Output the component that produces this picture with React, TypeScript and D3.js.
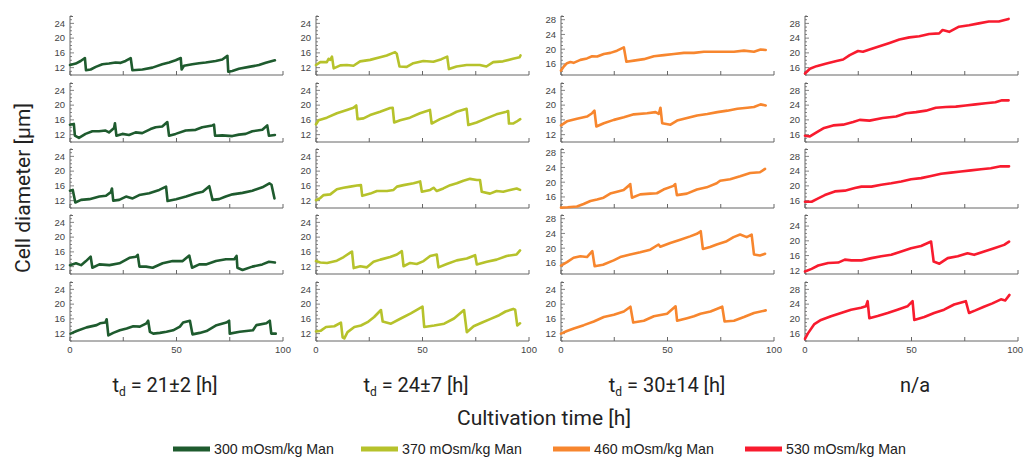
import React from "react";
import * as d3 from "d3";

// ---------- data ----------
const hourTicks = [0, 25, 50, 75, 100];
const hourLabels = [0, 50, 100];
const seriesNames = ["300 mOsm/kg Man", "370 mOsm/kg Man", "460 mOsm/kg Man", "530 mOsm/kg Man"];
const doublingTimes = ["21±2", "24±7", "30±14", "n/a"];
const panelMins = [
  [10, 10, 10, 10, 10],
  [10, 10, 10, 10, 10],
  [13, 10, 13, 13, 10],
  [14, 14, 14, 11, 14],
];

// 300 mOsm/kg (hours, diameter µm)
const m300_1 = [[0,12.7],[2.7,13.1],[5,13.8],[7,14.6],[7.5,11.3],[9.7,11.5],[12.1,12.2],[15.2,12.9],[18.3,13.1],[21.4,13.4],[23.8,13.3],[26.1,13.8],[28.5,14.6],[29.3,11.3],[34,11.5],[38.7,12],[43.3,12.9],[46.5,13.4],[49.6,14],[52,14.6],[52.4,11.5],[53.5,12.5],[57.4,12.9],[60.6,13.2],[63.7,13.4],[68.4,13.8],[71.5,14.2],[73.9,15.2],[74.3,10.9],[76.2,11.1],[79.3,11.7],[84,12.2],[88.7,12.7],[91.9,13.3],[96.2,14]];
const m300_2 = [[0,14.7],[1.8,14.9],[2.3,11.7],[4.2,11.1],[7.3,12.2],[10.5,12.9],[13.6,12.9],[16.7,13.1],[18.3,12.6],[20.7,13.8],[21.1,15.1],[21.8,11.7],[24.6,12.2],[27.7,11.9],[30.8,12.6],[33.9,12.4],[37.8,13.5],[40.2,14],[43.3,14.2],[45.7,15.4],[46.5,11.7],[49.6,12.2],[54.3,13.1],[59,13.3],[62.1,14],[66.8,14.5],[67.6,14.7],[68.1,11.7],[71.5,11.8],[76.2,11.6],[79.3,12],[82.5,12.2],[85.6,12.9],[90.3,13.3],[92.6,14.5],[93.4,11.7],[96.2,11.9]];
const m300_3 = [[0,14.7],[1.3,14.9],[2.5,11.5],[5.2,12.2],[9.1,12.4],[13.8,13.1],[16.9,13.3],[19.2,14.3],[19.7,15.3],[20.3,12],[23.1,12.2],[26.3,13.1],[29.4,12.6],[32.5,13.5],[37.2,14],[41.9,14.9],[45.1,15.8],[45.8,11.9],[49.8,12.4],[54.5,13.1],[59.2,14],[62.3,14.4],[65.4,15.9],[66.9,12.2],[70,12.4],[73.1,13.1],[76.3,13.7],[81,14.1],[85.6,14.7],[90.3,15.6],[93.6,16.7],[94.6,16.3],[96,12.6]];
const m300_4 = [[0,12.4],[2.8,12.9],[5.2,12.4],[7.5,13.5],[9.7,14.7],[10.5,11.7],[13.8,12.6],[18.5,12.4],[23.2,12.9],[27.9,14.4],[31,14.7],[31.8,15.2],[32.6,12],[35.7,12],[38.8,11.7],[43.5,12.9],[48.2,13.5],[52.9,13.5],[56,15],[57.3,11.7],[60.7,12.6],[63.8,12.6],[68.5,13.5],[73.2,14],[77.1,14],[78.2,14.9],[78.6,11.7],[81,11.1],[85.6,12],[90.3,12.6],[93.4,13.3],[96.2,13.1]];
const m300_5 = [[0.3,12],[3.1,12.7],[7.8,13.7],[12.5,14.3],[14.1,14.8],[16.6,15],[17.2,15.9],[18,11.5],[20.3,12.2],[23.4,12.9],[26.6,13.4],[29.7,14],[32.8,13.9],[35.9,14.8],[36.7,15.5],[37.5,12.5],[39.1,12],[42.2,12.2],[45.3,12.5],[48.4,12.9],[51.6,13.9],[53.1,15],[56.3,15.5],[57.5,11.8],[60.9,12.2],[64.1,12.7],[68.8,14.3],[73.4,15],[74.7,15.5],[75,12],[79.7,12.5],[85.9,12.9],[87.5,14.3],[92.2,14.8],[93.8,15.5],[94.5,12],[96.6,12]];

// 370 mOsm/kg
const m370_1 = [[0,12.7],[2,13.5],[5.1,13.5],[5.9,14.4],[6.7,14.1],[7.5,15],[8.3,11.8],[11.4,12.6],[14.5,12.7],[17.6,12.5],[20.7,13.7],[25.4,14.1],[30.1,14.8],[33.2,15.3],[37.1,16.2],[37.9,15.8],[39.2,12.3],[42.6,12.2],[45.7,13.2],[50.4,13.8],[55.1,13.6],[58.9,14.3],[61.6,15],[62.4,11.6],[66,12.3],[70.7,12.7],[76.9,12.7],[80,12.3],[83.2,13.5],[87.8,13.7],[92.5,14.4],[95.6,14.8],[96,15.3]];
const m370_2 = [[0,14.8],[1.2,15.9],[5.1,16.6],[9.8,17.8],[14.5,18.7],[17.6,19.3],[18.9,19.9],[19.5,16.2],[22.3,16.4],[25.4,17.3],[30.1,18.2],[34.8,19.2],[36,19.3],[36.7,15.3],[39.5,15.9],[44.1,16.6],[48.8,17.8],[53.5,18.7],[54.3,15],[58.2,16.2],[62.9,17.3],[66,18.2],[70.7,19],[71.5,14.6],[75.4,15.3],[80,16.4],[84.7,17.5],[89.4,18.2],[90.2,18.4],[90.6,15],[92.5,15],[94.1,15.5],[95.9,16.2]];
const m370_3 = [[0,12.1],[2,12.7],[3.6,13.5],[6.7,13.7],[9.8,15.1],[12.9,15.5],[16.1,15.8],[19.2,16.1],[21.1,16.2],[21.7,13.3],[25.5,13.9],[28.6,14.6],[33.3,14.6],[36.4,14.9],[38,15.8],[41.1,16.2],[45.8,16.7],[48.9,17.2],[49.7,14.4],[53.6,14.9],[55.2,15.5],[56.7,14.6],[59.8,15.3],[63,16.2],[66.1,16.7],[69.2,17.4],[72.3,17.9],[75.5,17.6],[77,17.6],[77.8,14.4],[81.7,13.9],[84.8,14.6],[87.9,14.4],[91.1,14.9],[94.2,15.3],[95.8,14.9]];
const m370_4 = [[0,13.5],[2,13.1],[5.2,13],[9.8,13.6],[13,14.6],[16.1,15.8],[16.9,16.1],[17.7,11.6],[20.8,12.1],[23.9,11.8],[27,13.3],[30.2,13.9],[34.8,14.6],[38,15.3],[40.3,16.2],[41.1,12.1],[44.2,13],[47.3,12.7],[50.5,13.5],[53.6,14.9],[56.7,15.3],[57.5,11.8],[61.4,12.7],[66.1,13.7],[70.8,14.2],[74.7,15.1],[75.5,12.6],[80.2,13.3],[84.8,13.9],[89.5,14.9],[94.2,15.3],[95.8,16.4]];
const m370_5 = [[0,12.6],[2.3,12.8],[4.7,13.8],[8.6,14],[11.7,15],[12.5,11],[13.3,10.7],[14.8,12.4],[18,13.8],[21.1,14.2],[24.2,15.1],[27.3,16.5],[30.5,18.4],[31.3,15.3],[35.2,14.7],[39.8,16.1],[44.5,17.5],[50,19.3],[50.8,13.8],[55.5,14.2],[60.2,14.7],[64.8,16.1],[69.5,18.4],[70.8,12.4],[74,14],[78,15],[82,16],[86,17],[89,18],[92.6,18.7],[93.5,18.5],[94.5,14.2],[95.8,14.8]];

// 460 mOsm/kg
const m460_1 = [[0,14.2],[1.3,15.3],[2.8,16.2],[4.4,16.5],[5.9,16.3],[9.1,17.1],[12.2,17.5],[14.6,18.1],[17,18],[20.1,18.7],[23.2,19],[26.3,19.6],[29.5,20.5],[30.7,16.6],[34.2,16.9],[38.9,17.3],[43.6,18.1],[48.3,18.4],[53,18.7],[57.7,19],[62.4,19],[67.1,19.3],[71.8,19.3],[76.5,19.3],[81.2,19.3],[85.9,19.6],[90.6,19.3],[93.7,19.9],[96.1,19.8]];
const m460_2 = [[0,14.5],[2.8,15.6],[7.5,16.3],[12.2,16.9],[14.6,17.8],[15.7,18.5],[16.6,14.2],[20.1,15.1],[24.8,16],[29.5,16.7],[34.2,17.5],[40.4,17.8],[44.4,18.1],[45.9,17.6],[46.7,19.3],[47.5,15.1],[51.4,14.7],[54.5,15.8],[59.2,16.5],[63.9,17.2],[68.7,17.6],[73.4,18.1],[78.1,18.5],[82.8,19],[87.5,19.3],[90.6,19.5],[93.7,20.2],[96.1,19.9]];
const m460_3 = [[0,13.1],[3.1,13.2],[7.5,13.4],[10.6,14.1],[13.8,14.9],[16.9,15.3],[20,15.8],[23.1,16.9],[26.3,17.4],[29.4,17.9],[31.7,19],[32.5,19.5],[33.3,15.8],[37.2,16.7],[41.9,16.9],[45,17],[48.1,18],[52.8,19],[53.6,19.5],[54.4,16.5],[59.1,16.9],[63.8,18],[68.4,18.6],[73.1,19.7],[74.7,20.4],[79.4,20.8],[84.1,21.6],[88.8,22.5],[93.4,22.7],[95.8,23.6]];
const m460_4 = [[0,15.3],[2.8,16.2],[5.9,17.4],[9.1,17.8],[12.2,17.6],[14.7,19.2],[15.8,15.1],[19.7,15.5],[24.7,16.7],[27.8,17.6],[32.5,18.3],[37.2,18.9],[41.9,19.6],[45.8,21],[46.6,20.4],[51.3,21.4],[56,22.3],[60.6,23.2],[63.8,23.9],[65.6,24.6],[66.6,19.8],[70,20.3],[73.1,21],[77.8,21.9],[81,23],[84.1,23.7],[87.2,23],[89.5,23.7],[90.6,18.3],[93.4,18],[95.8,18.5]];
const m460_5 = [[0,12],[2.8,12.7],[6,13.4],[10.7,14.3],[15.4,15.3],[20.1,16.5],[24.8,17.1],[29.5,18],[32.6,19.3],[33.9,15],[38.9,15.5],[43.6,16.7],[49.8,17.4],[53.8,19.4],[54.5,15.5],[59.2,16.2],[62.4,16.7],[65.5,17.4],[70.2,18],[75.7,19.3],[76.8,15.3],[81.2,15.5],[85.9,16.5],[90.6,17.6],[96.1,18.3]];

// 530 mOsm/kg
const m530_1 = [[0,14.4],[2.3,15.7],[5.4,16.4],[10.1,17.1],[14.8,17.8],[17.9,18.2],[21,19.4],[24.9,20.5],[27.2,20.3],[30.3,20.9],[35,21.8],[39.7,22.7],[44.3,23.6],[49,24.2],[53.7,24.5],[58.3,25.1],[63,25.3],[64.6,26.2],[67.7,25.7],[72.3,27.1],[77,27.5],[81.6,28],[86.3,28.5],[91,28.5],[95.6,29.2]];
const m530_2 = [[0,15.7],[2.3,15.5],[5.4,16.6],[8.6,17.7],[13.2,18.5],[17.9,18.7],[22.6,19.4],[25.7,20],[30.3,19.8],[36.5,20.5],[42.8,20.9],[47.4,21.8],[52.1,22.1],[56.8,22.5],[61.4,23.3],[66.1,23.5],[70.8,23.6],[75.4,23.9],[80.1,24.2],[84.8,24.5],[89.4,24.8],[92.5,25.3],[95.6,25.3]];
const m530_3 = [[0,15.7],[3.1,15.7],[6.2,16.6],[9.3,17.5],[14,18.5],[18.7,18.7],[23.4,19.4],[26.5,19.8],[31.2,19.8],[35.8,20.3],[40.5,20.7],[45.2,21.2],[49.8,21.8],[54.5,22.1],[59.2,22.7],[63.9,23.3],[68.5,23.6],[73.2,23.9],[77.9,24.2],[82.6,24.5],[87.2,24.8],[91.9,25.3],[95.8,25.3]];
const m530_4 = [[0,11.7],[3.1,12.4],[6.2,13.3],[10.9,14],[15.6,14.1],[18.7,14.9],[21.8,14.7],[26.5,14.7],[31.2,15.3],[35.8,15.8],[40.5,16.2],[45.2,17.1],[49.8,18],[54.5,18.6],[59.2,19.8],[60.4,14.4],[63.1,13.8],[67,15.3],[71.7,15.8],[76.3,16.6],[79.4,16.2],[84.1,17.1],[88.8,18],[93.5,18.9],[95.8,19.8]];
const m530_5 = [[0,14.6],[1.3,16],[4.4,18.6],[7.5,19.7],[12.2,20.7],[16.9,21.6],[21.6,22.5],[26.3,23],[28.6,23.4],[29.4,24.8],[30.2,20.2],[34.1,20.8],[38.8,21.6],[43.4,22.5],[48.1,23.4],[50.5,24.8],[51.3,19.7],[56,20.5],[60.6,21.6],[65.3,22.5],[70,23.9],[75.5,24.8],[77,21.6],[80,22.3],[84,23.3],[88,24.2],[92,25.3],[94,25],[96,26.5]];

const seriesPanels = [
  [m300_1, m300_2, m300_3, m300_4, m300_5],
  [m370_1, m370_2, m370_3, m370_4, m370_5],
  [m460_1, m460_2, m460_3, m460_4, m460_5],
  [m530_1, m530_2, m530_3, m530_4, m530_5],
];

// ---------- styling / layout ----------
const COLORS = ["#1e5b2e", "#b6c22b", "#f7862e", "#f81b2e"];
const COL_LEFT = [70, 316, 561, 805];
const PLOT_W = 213;
const PANEL_BOTTOM = [75, 142, 208, 274, 341];
const PANEL_H = 59;
const SPAN = 16;
const AXIS = "#666";
const TICK_FONT = "'Liberation Sans', Arial, sans-serif";
const TITLE_FONT = "Roboto, 'Noto Sans', sans-serif";
const TITLE_X = [165, 416, 667, 915];
const LEGEND_X = [173, 361, 553, 745];
const WIDTH = 1024;

function Panel({ c, p }: { c: number; p: number }) {
  const lo = panelMins[c][p];
  const bottom = PANEL_BOTTOM[p];
  const x = d3.scaleLinear().domain([0, 100]).range([COL_LEFT[c], COL_LEFT[c] + PLOT_W]);
  const y = d3.scaleLinear().domain([lo, lo + SPAN]).range([bottom, bottom - PANEL_H]);
  const line = d3
    .line<number[]>()
    .x((d) => x(d[0]))
    .y((d) => y(d[1]));
  const x0 = x(0);
  const yTicks = d3.range(Math.ceil(lo), lo + SPAN + 0.001, 1);
  const isBottom = p === PANEL_BOTTOM.length - 1;
  return (
    <g>
      <line x1={x0} x2={x0} y1={bottom} y2={bottom - PANEL_H} stroke={AXIS} strokeWidth={1} />
      <line x1={x0} x2={x0 + 3} y1={bottom - PANEL_H + 0.5} y2={bottom - PANEL_H + 0.5} stroke={AXIS} strokeWidth={1} />
      <line x1={x0} x2={x(100)} y1={bottom} y2={bottom} stroke={AXIS} strokeWidth={1} />
      {hourTicks.map((t) => (
        <line key={"xt" + t} x1={x(t)} x2={x(t)} y1={bottom} y2={bottom - 4} stroke={AXIS} strokeWidth={1} />
      ))}
      {yTicks.map((v) => (
        <line key={"yt" + v} x1={x0} x2={x0 + (v % 4 === 0 ? 4 : 2)} y1={y(v)} y2={y(v)} stroke={AXIS} strokeWidth={0.8} />
      ))}
      {yTicks
        .filter((v) => v % 4 === 0)
        .map((v) => (
          <text key={"yl" + v} x={x0 - 5} y={y(v)} dy="0.35em" textAnchor="end" fontSize={9.5} fontFamily={TICK_FONT} fill="#444">
            {v}
          </text>
        ))}
      {isBottom &&
        hourLabels.map((t) => {
          const fitsRight = x(t) + 9 < WIDTH;
          return (
            <text
              key={"xl" + t}
              x={fitsRight ? x(t) : WIDTH - 1}
              y={bottom + 12}
              textAnchor={fitsRight ? "middle" : "end"}
              fontSize={9.5}
              fontFamily={TICK_FONT}
              fill="#444"
            >
              {t}
            </text>
          );
        })}
      <path d={line(seriesPanels[c][p] as number[][]) || ""} fill="none" stroke={COLORS[c]} strokeWidth={2.6} strokeLinejoin="round" strokeLinecap="round" />
    </g>
  );
}

export default function App() {
  return (
    <div style={{ position: "absolute", left: 0, top: 0 }}>
      <svg width={1024} height={457} style={{ display: "block", background: "#fff" }}>
        {seriesPanels.map((col, c) => col.map((_, p) => <Panel key={c + "-" + p} c={c} p={p} />))}

        <text
          transform="translate(23,188) rotate(-90)"
          textAnchor="middle"
          dominantBaseline="central"
          fontSize={21}
          fontFamily={TITLE_FONT}
          fill="#222"
        >
          Cell diameter [μm]
        </text>

        {doublingTimes.map((dt, i) =>
          dt === "n/a" ? (
            <text key={"t" + i} x={TITLE_X[i]} y={392} textAnchor="middle" fontSize={20} fontFamily={TITLE_FONT} fill="#222">
              n/a
            </text>
          ) : (
            <text key={"t" + i} x={TITLE_X[i]} y={392} textAnchor="middle" fontSize={20} fontFamily={TITLE_FONT} fill="#222">
              t<tspan fontSize={12} dy={4}>d</tspan>
              <tspan dy={-4}>{" = " + dt + " [h]"}</tspan>
            </text>
          )
        )}

        <text x={544} y={425} textAnchor="middle" fontSize={21} fontFamily={TITLE_FONT} fill="#222">
          Cultivation time [h]
        </text>

        {seriesNames.map((name, i) => (
          <g key={"lg" + i}>
            <line x1={LEGEND_X[i]} x2={LEGEND_X[i] + 37} y1={449} y2={449} stroke={COLORS[i]} strokeWidth={5} />
            <text x={LEGEND_X[i] + 41} y={449} dy="0.35em" fontSize={14.2} fontFamily={TICK_FONT} fill="#222">
              {name}
            </text>
          </g>
        ))}
      </svg>
    </div>
  );
}
